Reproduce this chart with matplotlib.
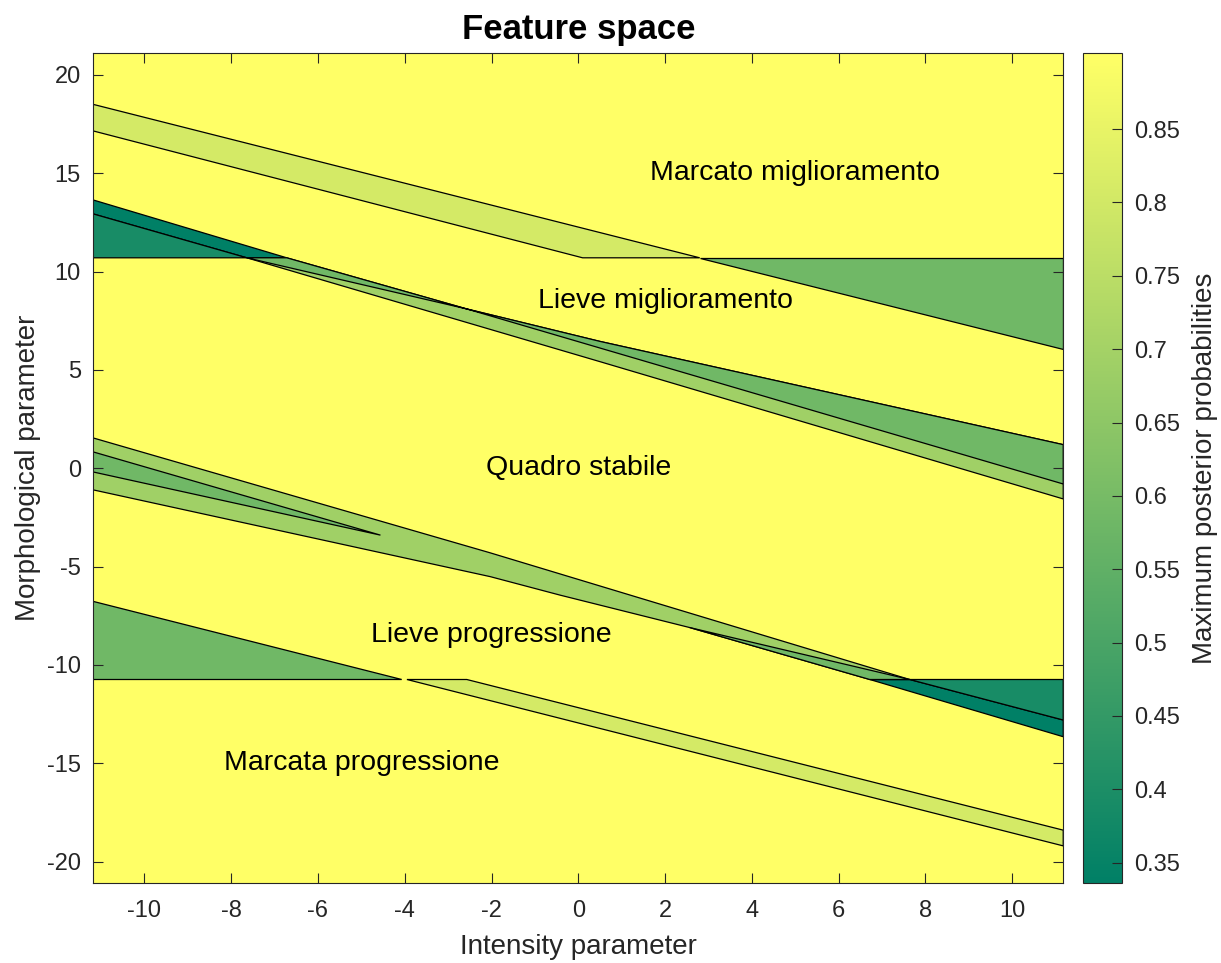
import numpy as np
import matplotlib
matplotlib.use("Agg")
import matplotlib.pyplot as plt
from matplotlib.colors import Normalize
from matplotlib.cm import ScalarMappable

# ── Config ────────────────────────────────────────────────────────────────
FONT = ["Liberation Sans", "DejaVu Sans"]
TEXT_C = "#262626"
VMIN, VMAX = 0.336, 0.9017
XLIM = (-11.18, 11.18)
YLIM = (-21.1, 21.1)

# ── Data: region outlines (x, y) and their level ──────────────────────────
top_band = [(-11.18, 18.5), (2.8, 10.7), (0.1, 10.7), (-11.18, 17.15)]
upper_right_tri = [(2.8, 10.7), (11.18, 10.7), (11.18, 6.07)]
teal_dark_up = [(-11.18, 13.64), (-6.72, 10.7), (-7.64, 10.7), (-11.18, 12.93)]
teal_light_up = [(-11.18, 12.93), (-7.64, 10.7), (-11.18, 10.7)]
upper_light = [(-6.72, 10.7), (-2.57, 8.1), (0.5, 6.45), (11.18, 1.2),
               (11.18, -1.56), (0.5, 5.42), (-7.64, 10.7)]
upper_medium = [(-6.72, 10.7), (-2.57, 8.1), (0.5, 6.45), (11.18, 1.2),
                (11.18, -0.8), (-2.57, 8.1), (-7.64, 10.7)]

bottom_band = [(-2.57, -10.74), (11.18, -18.4), (11.18, -19.2), (-3.95, -10.74)]
lower_left_tri = [(-11.18, -6.77), (-4.07, -10.74), (-11.18, -10.74)]
teal_dark_low = [(6.72, -10.74), (11.18, -13.65), (11.18, -12.8), (7.64, -10.74)]
teal_light_low = [(7.64, -10.74), (11.18, -12.8), (11.18, -10.74)]
lower_light = [(-11.18, 1.54), (-2.03, -4.3), (7.64, -10.74), (6.72, -10.74),
               (2.57, -8.1), (-0.42, -6.45), (-2.03, -5.51), (-11.18, -1.1)]
lower_medium = [(7.64, -10.74), (6.72, -10.74), (2.57, -8.1)]
lower_left_wedge = [(-11.18, 0.83), (-4.56, -3.4), (-11.18, -0.19)]

regions = [top_band, upper_right_tri, teal_dark_up, teal_light_up,
           upper_light, upper_medium, bottom_band, lower_left_tri,
           teal_dark_low, teal_light_low, lower_light, lower_medium,
           lower_left_wedge]
levels = [0.806, 0.585, 0.336, 0.39,
          0.69, 0.585, 0.806, 0.585,
          0.336, 0.39, 0.69, 0.585,
          0.585]
BACKGROUND_LEVEL = 0.9017

labels = ["Marcato miglioramento", "Lieve miglioramento", "Quadro stabile",
          "Lieve progressione", "Marcata progressione"]
label_x = [5, 2, 0, -2, -5]
label_y = [15, 8.5, 0, -8.5, -15]

cbar_ticks = [0.35, 0.4, 0.45, 0.5, 0.55, 0.6, 0.65, 0.7, 0.75, 0.8, 0.85]

# ── Figure ────────────────────────────────────────────────────────────────
plt.rcParams["font.family"] = FONT
plt.rcParams["axes.unicode_minus"] = False
cmap = plt.get_cmap("summer")
norm = Normalize(VMIN, VMAX)

fig = plt.figure(figsize=(12.21, 9.63), dpi=100)
ax = fig.add_axes([0.0764, 0.0828, 0.7944, 0.8619])
ax.set_facecolor(cmap(norm(BACKGROUND_LEVEL)))

for poly, lev in zip(regions, levels):
    xs, ys = zip(*poly)
    ax.fill(xs, ys, facecolor=cmap(norm(lev)), edgecolor="black",
            linewidth=0.9, joinstyle="miter")

for txt, x, y in zip(labels, label_x, label_y):
    ax.text(x, y, txt, ha="center", va="center", fontsize=20.5, color="black")

ax.set_xlim(*XLIM)
ax.set_ylim(*YLIM)
ax.set_xticks(range(-10, 11, 2))
ax.set_yticks(range(-20, 21, 5))
ax.tick_params(direction="in", top=True, right=True, length=7,
               width=0.8, labelsize=17, colors=TEXT_C)
ax.tick_params(axis="x", pad=12)
ax.tick_params(axis="y", pad=9)
for s in ax.spines.values():
    s.set_color(TEXT_C)
    s.set_linewidth(0.8)

ax.set_xlabel("Intensity parameter", fontsize=20, color=TEXT_C, labelpad=9)
ax.set_ylabel("Morphological parameter", fontsize=20, color=TEXT_C, labelpad=4)
ax.set_title("Feature space", fontsize=25, fontweight="bold", color="black", pad=10)

# ── Colorbar ──────────────────────────────────────────────────────────────
cax = fig.add_axes([0.887, 0.0828, 0.032, 0.8619])
cb = fig.colorbar(ScalarMappable(norm=norm, cmap=cmap), cax=cax)
cb.set_ticks(cbar_ticks)
cb.set_ticklabels([f"{t:g}" for t in cbar_ticks])
cb.ax.tick_params(direction="in", length=7, width=0.8, labelsize=17,
                  colors=TEXT_C, pad=9)
cb.outline.set_edgecolor(TEXT_C)
cb.outline.set_linewidth(0.8)
cb.set_label("Maximum posterior probabilities", fontsize=20, color=TEXT_C,
             labelpad=8)

fig.savefig("out.png", dpi=100, facecolor="white")
